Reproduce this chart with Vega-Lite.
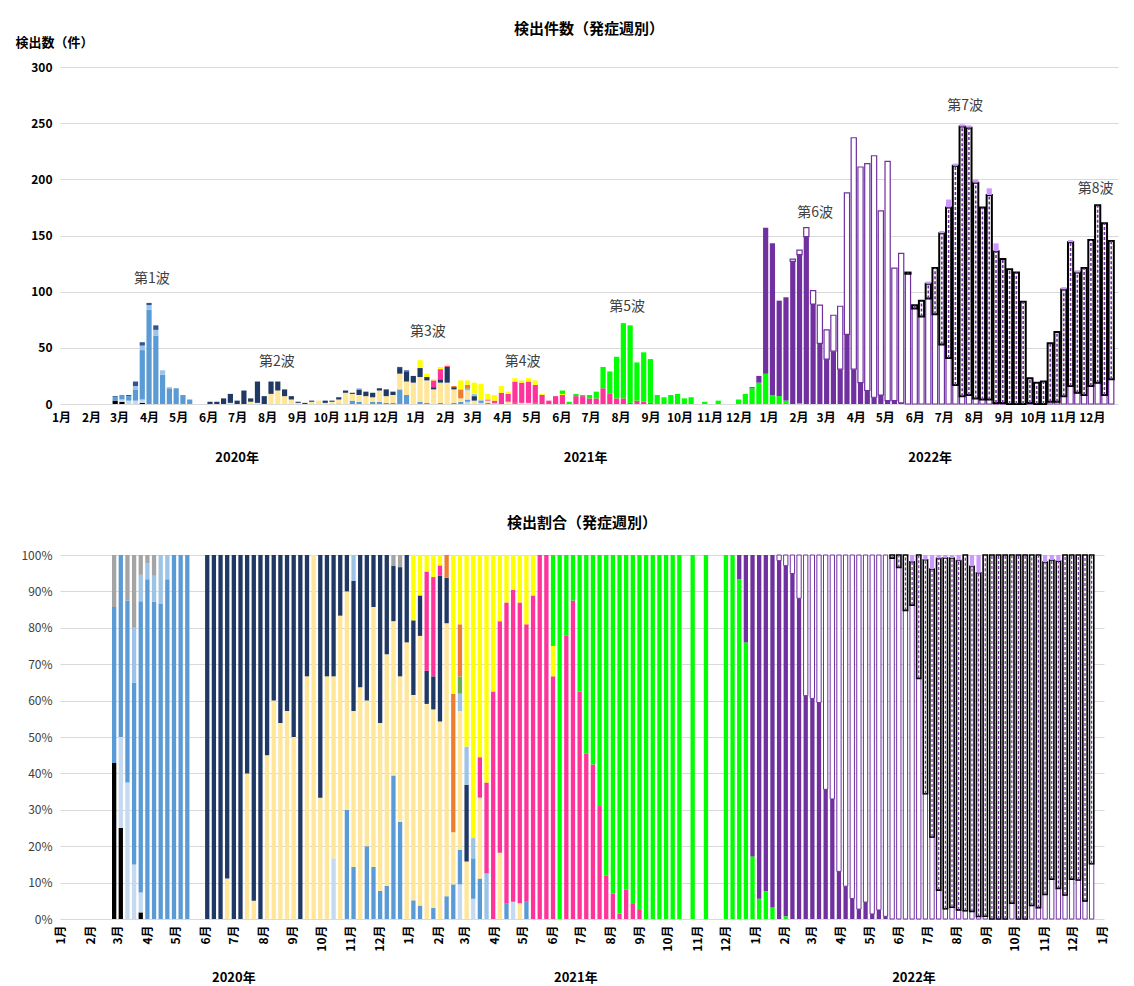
{
"$schema": "https://vega.github.io/schema/vega-lite/v6.json",
"padding": {"left": 15, "top": 22, "right": 5, "bottom": 5},
"background": "white",
"config": {"font": "Noto Sans CJK JP", "view": {"stroke": null}, "axis": {"domain": false, "ticks": false, "gridColor": "#D9D9D9", "labelColor": "#000000", "labelFont": "Noto Sans CJK JP", "titleFont": "Noto Sans CJK JP"}, "title": {"font": "Noto Sans CJK JP"}, "text": {"font": "Noto Sans CJK JP"}},
"resolve": {"scale": {"fill": "independent", "x": "independent", "y": "independent"}},
"datasets": {
"order": [{"c":"A","k":1},{"c":"H","k":2},{"c":"L","k":3},{"c":"S","k":4},{"c":"N","k":5},{"c":"HL","k":6},{"c":"Gr","k":7},{"c":"O","k":8},{"c":"P","k":9},{"c":"Y","k":10},{"c":"D","k":11},{"c":"B1","k":12},{"c":"B2","k":13},{"c":"B5","k":14},{"c":"LP","k":15},{"c":"Z","k":16}],
"years": [{"w":"2020-07-01","t":"2020年"},{"w":"2021-06-26","t":"2021年"},{"w":"2022-06-17","t":"2022年"}],
"waves": [{"w":"2020-04-04","n":111,"t":"第1波"},{"w":"2020-08-11","n":37,"t":"第2波"},{"w":"2021-01-14","n":64,"t":"第3波"},{"w":"2021-04-22","n":37,"t":"第4波"},{"w":"2021-08-08","n":86,"t":"第5波"},{"w":"2022-02-18","n":170,"t":"第6波"},{"w":"2022-07-23","n":265,"t":"第7波"},{"w":"2022-12-05","n":191,"t":"第8波"}],
"weeks": [
{"w":"2020-02-26","A":3,"L":3,"Z":1},
{"w":"2020-03-04","A":2,"H":2,"L":4},
{"w":"2020-03-11","H":3,"L":4,"Z":1},
{"w":"2020-03-18","H":3,"L":10,"HL":3,"Z":4},
{"w":"2020-03-25","A":1,"H":3,"L":44,"HL":4,"Z":3},
{"w":"2020-04-01","L":84,"HL":4,"Z":2},
{"w":"2020-04-08","L":61,"HL":5,"Z":4},
{"w":"2020-04-15","L":26,"HL":4},
{"w":"2020-04-22","L":14,"HL":1},
{"w":"2020-04-29","L":14},
{"w":"2020-05-06","L":8},
{"w":"2020-05-13","L":4},
{"w":"2020-06-03","N":2},
{"w":"2020-06-10","N":2},
{"w":"2020-06-17","N":5},
{"w":"2020-06-24","S":1,"N":8},
{"w":"2020-07-01","N":3},
{"w":"2020-07-08","N":12},
{"w":"2020-07-15","S":2,"N":3},
{"w":"2020-07-22","S":1,"N":19},
{"w":"2020-07-29","N":7},
{"w":"2020-08-05","S":9,"N":11},
{"w":"2020-08-12","S":12,"N":8},
{"w":"2020-08-19","S":7,"N":6},
{"w":"2020-08-26","S":4,"N":3},
{"w":"2020-09-02","S":1,"N":1},
{"w":"2020-09-09","N":1},
{"w":"2020-09-16","S":2,"N":1},
{"w":"2020-09-23","S":3},
{"w":"2020-09-30","S":1,"N":2},
{"w":"2020-10-07","S":2,"N":1},
{"w":"2020-10-14","H":1,"S":3,"N":2},
{"w":"2020-10-21","S":10,"N":2},
{"w":"2020-10-28","L":3,"S":6,"N":1},
{"w":"2020-11-04","L":2,"S":6,"N":5,"HL":1},
{"w":"2020-11-11","S":7,"N":4},
{"w":"2020-11-18","L":2,"S":4,"N":4},
{"w":"2020-11-25","L":2,"S":10,"N":2},
{"w":"2020-12-02","L":1,"S":6,"N":6},
{"w":"2020-12-09","L":1,"S":7,"N":3},
{"w":"2020-12-16","L":13,"S":14,"N":5,"Z":1},
{"w":"2020-12-23","L":8,"S":12,"N":9,"Z":1},
{"w":"2020-12-30","S":19,"N":6},
{"w":"2021-01-06","L":2,"S":22,"N":8,"Y":7},
{"w":"2021-01-13","L":1,"S":20,"N":3,"Y":3},
{"w":"2021-01-20","S":13,"N":2,"P":6,"Y":1},
{"w":"2021-01-27","L":1,"S":18,"N":3,"P":9,"Y":2},
{"w":"2021-02-03","S":19,"N":14,"P":1,"Y":1},
{"w":"2021-02-10","L":1,"S":12,"N":2,"O":1},
{"w":"2021-02-17","L":2,"S":3,"O":8,"Y":8},
{"w":"2021-02-24","H":2,"L":2,"S":8,"HL":1,"Gr":1,"O":3,"Y":4},
{"w":"2021-03-03","S":3,"N":4,"HL":2,"Y":10},
{"w":"2021-03-10","H":1,"L":2,"HL":1,"Y":14},
{"w":"2021-03-17","L":1,"S":2,"P":1,"Y":5},
{"w":"2021-03-24","HL":1,"P":2,"Y":5},
{"w":"2021-03-31","P":10,"Y":6},
{"w":"2021-04-07","S":2,"P":7,"Y":2},
{"w":"2021-04-14","L":1,"P":19,"Y":3},
{"w":"2021-04-21","H":1,"P":18,"Y":2},
{"w":"2021-04-28","S":1,"P":19,"Y":3},
{"w":"2021-05-05","L":1,"P":16,"Y":4},
{"w":"2021-05-12","P":8,"Y":1},
{"w":"2021-05-19","P":3},
{"w":"2021-05-26","P":7},
{"w":"2021-06-02","P":8,"Y":1,"D":3},
{"w":"2021-06-09","D":2},
{"w":"2021-06-16","P":7,"D":2},
{"w":"2021-06-23","P":7,"D":1},
{"w":"2021-06-30","P":5,"D":3},
{"w":"2021-07-07","P":5,"D":6},
{"w":"2021-07-14","P":14,"D":19},
{"w":"2021-07-21","P":9,"D":20},
{"w":"2021-07-28","P":5,"D":37},
{"w":"2021-08-04","P":5,"D":67},
{"w":"2021-08-11","P":1,"D":69},
{"w":"2021-08-18","P":3,"D":34},
{"w":"2021-08-25","P":2,"D":44},
{"w":"2021-09-01","P":1,"D":39},
{"w":"2021-09-08","D":8},
{"w":"2021-09-15","D":6},
{"w":"2021-09-22","D":8},
{"w":"2021-09-29","D":9},
{"w":"2021-10-06","D":5},
{"w":"2021-10-13","D":6},
{"w":"2021-10-27","D":2},
{"w":"2021-11-10","D":3},
{"w":"2021-12-01","D":4},
{"w":"2021-12-08","D":9},
{"w":"2021-12-15","D":14,"B1":1},
{"w":"2021-12-22","D":19,"B1":6},
{"w":"2021-12-29","D":27,"B1":130},
{"w":"2022-01-05","D":8,"B1":135},
{"w":"2022-01-12","D":7,"B1":85},
{"w":"2022-01-19","D":3,"B1":92},
{"w":"2022-01-26","B1":127,"B2":2},
{"w":"2022-02-02","D":1,"B1":132,"B2":4},
{"w":"2022-02-09","B1":149,"B2":8},
{"w":"2022-02-16","B1":89,"B2":12},
{"w":"2022-02-23","B1":54,"B2":34},
{"w":"2022-03-02","B1":40,"B2":26},
{"w":"2022-03-09","B1":47,"B2":32},
{"w":"2022-03-16","B1":31,"B2":56},
{"w":"2022-03-23","B1":62,"B2":126},
{"w":"2022-03-30","B1":31,"B2":206},
{"w":"2022-04-06","B1":19,"B2":192},
{"w":"2022-04-13","B1":12,"B2":202},
{"w":"2022-04-20","B1":6,"B2":215},
{"w":"2022-04-27","B1":8,"B2":164},
{"w":"2022-05-04","B1":3,"B2":213},
{"w":"2022-05-11","B1":3,"B2":118},
{"w":"2022-05-18","B1":1,"B2":133},
{"w":"2022-05-25","B2":116,"B5":1},
{"w":"2022-06-01","B2":85,"B5":3},
{"w":"2022-06-08","B2":78,"B5":14},
{"w":"2022-06-15","B2":94,"B5":13,"LP":2},
{"w":"2022-06-22","B2":80,"B5":41},
{"w":"2022-06-29","B2":53,"B5":99,"LP":2},
{"w":"2022-07-06","B2":41,"B5":134,"LP":7},
{"w":"2022-07-13","B2":17,"B5":195,"LP":2},
{"w":"2022-07-20","B2":7,"B5":240,"LP":2},
{"w":"2022-07-27","B2":8,"B5":238,"LP":2},
{"w":"2022-08-03","B2":5,"B5":192,"LP":3},
{"w":"2022-08-10","B2":4,"B5":171},
{"w":"2022-08-17","B2":4,"B5":182,"LP":6},
{"w":"2022-08-24","B2":1,"B5":135,"LP":7},
{"w":"2022-08-31","B2":1,"B5":128},
{"w":"2022-09-07","B5":120},
{"w":"2022-09-14","B5":117},
{"w":"2022-09-21","B5":91},
{"w":"2022-09-28","B2":1,"B5":22},
{"w":"2022-10-05","B5":19},
{"w":"2022-10-12","B5":20},
{"w":"2022-10-19","B2":2,"B5":52},
{"w":"2022-10-26","B2":2,"B5":62},
{"w":"2022-11-02","B2":7,"B5":95,"LP":2},
{"w":"2022-11-09","B2":16,"B5":128,"LP":2},
{"w":"2022-11-16","B2":10,"B5":107,"LP":2},
{"w":"2022-11-23","B2":8,"B5":113},
{"w":"2022-11-30","B2":16,"B5":130},
{"w":"2022-12-07","B2":19,"B5":158},
{"w":"2022-12-14","B2":8,"B5":153},
{"w":"2022-12-21","B2":22,"B5":123}
]},
"spacing": 51,
"vconcat": [
{
"title": {"text": "検出件数（発症週別）", "fontSize": 15, "fontWeight": "bold", "color": "#000000", "offset": -1},
"width": 1058, "height": 337,
"encoding": {"x": {"field": "w", "type": "temporal", "scale": {"type": "utc", "nice": false, "padding": 0, "domain": [{"year": 2019, "month": 12, "date": 31, "utc": true}, {"year": 2022, "month": 12, "date": 28, "utc": true}]}, "axis": {"title": null, "grid": false, "labelExpr": "(utcmonth(datum.value) + 1) + '月'", "tickCount": {"interval": "month", "step": 1}, "labelFontSize": 12, "labelFontWeight": "bold", "labelPadding": 8, "labelOverlap": false, "labelFlush": false}}},
"layer": [
{"data": {"name": "weeks"},
 "transform": [
  {"fold": ["A","H","L","S","N","HL","Gr","O","P","Y","D","B1","B2","B5","LP","Z"]},
  {"filter": "datum.value > 0"},
  {"lookup": "key", "from": {"data": {"name": "order"}, "key": "c", "fields": ["k"]}},
  {"stack": "value", "groupby": ["w"], "sort": [{"field": "k", "order": "ascending"}], "as": ["v0", "v1"]}
 ],
 "layer": [
  {"mark": {"type": "bar", "width": 5.2},
   "encoding": {
    "y": {"field": "v0", "type": "quantitative", "scale": {"domain": [0, 300]}, "axis": {"title": "検出数（件）", "titleAngle": 0, "titleAlign": "left", "titleBaseline": "middle", "titleX": -45, "titleY": -25, "titleFontSize": 13, "titleFontWeight": "bold", "titleColor": "#000000", "values": [0, 50, 100, 150, 200, 250, 300], "labelFontSize": 12, "labelFontWeight": "bold", "labelPadding": 8, "grid": true}},
    "y2": {"field": "v1"},
    "fill": {"field": "key", "type": "nominal", "legend": null, "scale": {"domain": ["A","H","L","S","N","HL","Gr","O","P","Y","D","B1","B2","B5","LP","Z"], "range": ["#000000","#C5D9F1","#5B9BD5","#FFE699","#203864","#9DC3E6","#70AD47","#ED7D31","#FF3399","#FFFF00","#00FF00","#7030A0","#FFFFFF","#FFFFFF","#CC99FF","#2F5597"]}},
    "stroke": {"condition": [{"test": "datum.key === 'B5'", "value": "#000000"}, {"test": "datum.key === 'B2'", "value": "#7030A0"}], "value": "transparent"},
    "strokeWidth": {"condition": [{"test": "datum.key === 'B5'", "value": 2}, {"test": "datum.key === 'B2'", "value": 1.2}], "value": 0}
   }},
  {"transform": [{"filter": "datum.key === 'B5'"}],
   "mark": {"type": "rule", "color": "#7030A0", "strokeWidth": 1.6, "strokeDash": [3, 2]},
   "encoding": {"y": {"field": "v0", "type": "quantitative"}, "y2": {"field": "v1"}}}
 ]},
{"data": {"name": "waves"}, "mark": {"type": "text", "fontSize": 14, "color": "#404040"},
 "encoding": {"y": {"field": "n", "type": "quantitative"}, "text": {"field": "t"}}},
{"data": {"name": "years"}, "mark": {"type": "text", "fontSize": 13, "fontWeight": "bold", "color": "#000000"},
 "encoding": {"y": {"datum": -48, "type": "quantitative"}, "text": {"field": "t"}}}
]
},
{
"title": {"text": "検出割合（発症週別）", "fontSize": 15, "fontWeight": "bold", "color": "#000000", "offset": 18},
"width": 1044, "height": 364,
"encoding": {"x": {"field": "w", "type": "temporal", "scale": {"type": "utc", "nice": false, "padding": 0, "domain": [{"year": 2019, "month": 12, "date": 31, "utc": true}, {"year": 2023, "month": 1, "date": 3, "utc": true}]}, "axis": {"title": null, "grid": false, "labelExpr": "(utcmonth(datum.value) + 1) + '月'", "tickCount": {"interval": "month", "step": 1}, "labelFontSize": 12, "labelFontWeight": "bold", "labelAngle": -90, "labelPadding": 6, "labelOverlap": false, "labelFlush": false}}},
"layer": [
{"data": {"name": "weeks"},
 "transform": [
  {"fold": ["A","H","L","S","N","HL","Gr","O","P","Y","D","B1","B2","B5","LP","Z"]},
  {"filter": "datum.value > 0"},
  {"lookup": "key", "from": {"data": {"name": "order"}, "key": "c", "fields": ["k"]}},
  {"stack": "value", "groupby": ["w"], "sort": [{"field": "k", "order": "ascending"}], "offset": "normalize", "as": ["v0", "v1"]}
 ],
 "layer": [
  {"mark": {"type": "bar", "width": 4.3},
   "encoding": {
    "y": {"field": "v0", "type": "quantitative", "scale": {"domain": [0, 1]}, "axis": {"title": null, "format": ".0%", "values": [0, 0.1, 0.2, 0.3, 0.4, 0.5, 0.6, 0.7, 0.8, 0.9, 1], "labelFontSize": 12, "labelColor": "#404040", "labelPadding": 8, "labelOverlap": false, "grid": true}},
    "y2": {"field": "v1"},
    "fill": {"field": "key", "type": "nominal", "legend": null, "scale": {"domain": ["A","H","L","S","N","HL","Gr","O","P","Y","D","B1","B2","B5","LP","Z"], "range": ["#000000","#C5D9F1","#5B9BD5","#FFE699","#203864","#9DC3E6","#70AD47","#ED7D31","#FF3399","#FFFF00","#00FF00","#7030A0","#FFFFFF","#FFFFFF","#CC99FF","#A5A5A5"]}},
    "stroke": {"condition": [{"test": "datum.key === 'B5'", "value": "#000000"}, {"test": "datum.key === 'B2'", "value": "#7030A0"}], "value": "transparent"},
    "strokeWidth": {"condition": [{"test": "datum.key === 'B5'", "value": 1.6}, {"test": "datum.key === 'B2'", "value": 1}], "value": 0}
   }},
  {"transform": [{"filter": "datum.key === 'B5'"}],
   "mark": {"type": "rule", "color": "#7030A0", "strokeWidth": 1.2, "strokeDash": [3, 2]},
   "encoding": {"y": {"field": "v0", "type": "quantitative", "axis": {"title": null, "format": ".0%", "values": [0, 0.1, 0.2, 0.3, 0.4, 0.5, 0.6, 0.7, 0.8, 0.9, 1], "labelFontSize": 12, "labelColor": "#404040", "labelPadding": 8, "labelOverlap": false, "grid": true}}, "y2": {"field": "v1"}}}
 ]},
{"data": {"name": "years"}, "mark": {"type": "text", "fontSize": 13, "fontWeight": "bold", "color": "#000000"},
 "encoding": {"y": {"datum": -0.162, "type": "quantitative", "axis": {"title": null, "format": ".0%", "values": [0, 0.1, 0.2, 0.3, 0.4, 0.5, 0.6, 0.7, 0.8, 0.9, 1], "labelFontSize": 12, "labelColor": "#404040", "labelPadding": 8, "labelOverlap": false, "grid": true}}, "text": {"field": "t"}}}
]
}
]
}
